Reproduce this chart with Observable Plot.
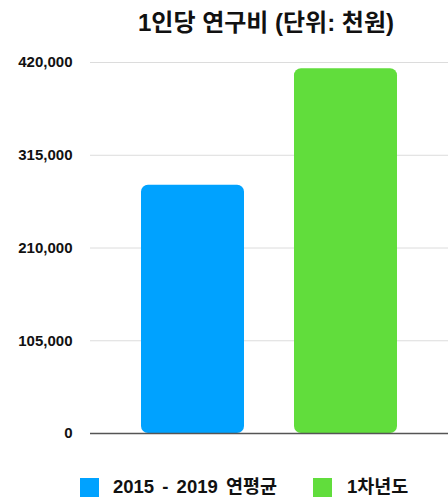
<!DOCTYPE html>
<html>
<head>
<meta charset="utf-8">
<script src="https://cdn.jsdelivr.net/npm/d3@7"></script>
<script src="https://cdn.jsdelivr.net/npm/@observablehq/plot@0.6"></script>
<style>
  html, body { margin: 0; padding: 0; background: #fff; }
  body { width: 448px; height: 499px; overflow: hidden; font-family: "Liberation Sans", "Noto Sans CJK KR", sans-serif; }
  #title { height: 45px; line-height: 46px; font-size: 24px; font-weight: bold; text-align: center; padding-left: 84px; color: #111; box-sizing: border-box; width: 448px; white-space: nowrap; }
  #chart svg { display: block; }
  #legend { position: relative; height: 54px; }
  .sw { position: absolute; top: 33px; width: 19px; height: 19px; }
  .lb { position: absolute; top: 31px; font-size: 18.5px; font-weight: bold; color: #111; line-height: 22px; white-space: nowrap; word-spacing: 3px; }
</style>
</head>
<body>
<div id="title">1인당 연구비 (단위: 천원)</div>
<div id="chart"></div>
<div id="legend"></div>
<script>
const categories = ["2015 - 2019 연평균", "1차년도"];
const values = [281000, 413000];
const colors = ["#00A2FF", "#61DD3C"];
const yTicks = [0, 105000, 210000, 315000, 420000];
const titleText = "1인당 연구비 (단위: 천원)";

const data = categories.map((c, i) => ({category: c, value: values[i], color: colors[i]}));

const chart = Plot.plot({
  width: 448,
  height: 400,
  marginLeft: 90,
  marginRight: 0,
  marginTop: 17,
  marginBottom: 12,
  style: {fontFamily: '"Liberation Sans", "Noto Sans CJK KR", sans-serif', fontSize: "15px", fontWeight: "bold", color: "#111", background: "#fff"},
  x: {domain: categories, padding: 0.33, axis: null},
  y: {domain: [0, 420000], ticks: yTicks, tickFormat: d3.format(","), tickSize: 0, tickPadding: 18, label: null},
  marks: [
    Plot.ruleY(yTicks.filter(d => d > 0), {stroke: "#dcdcdc", strokeWidth: 1}),
    Plot.barY(data, {x: "category", y: "value", fill: "color", rx: 7}),
    Plot.ruleY([0], {stroke: "#555", strokeWidth: 1.5})
  ]
});
document.getElementById("chart").appendChild(chart);

const legend = document.getElementById("legend");
const swX = [80, 313];
const lbX = [113, 347];
categories.forEach((c, i) => {
  const s = document.createElement("div");
  s.className = "sw";
  s.style.left = swX[i] + "px";
  s.style.background = colors[i];
  legend.appendChild(s);
  const l = document.createElement("div");
  l.className = "lb";
  l.style.left = lbX[i] + "px";
  l.textContent = c;
  legend.appendChild(l);
});
</script>
</body>
</html>
